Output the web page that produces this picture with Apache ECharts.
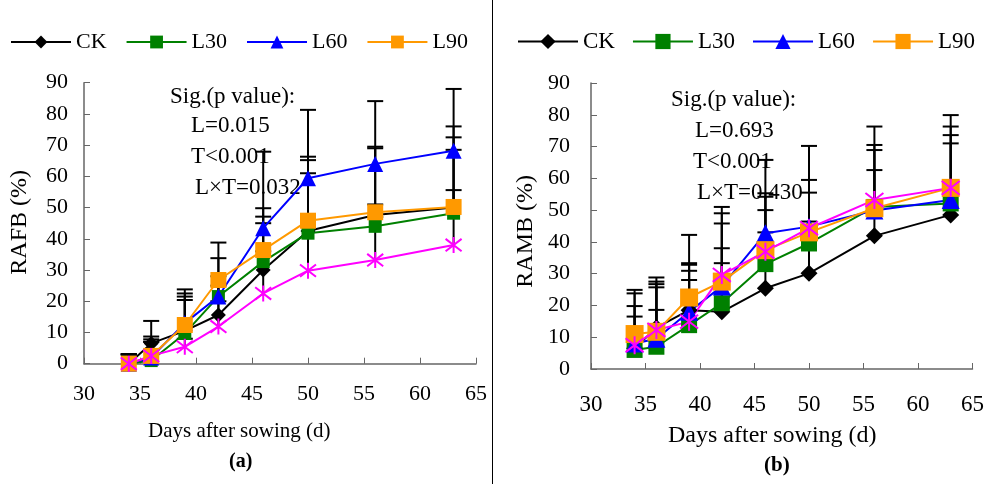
<!DOCTYPE html>
<html>
<head>
<meta charset="utf-8">
<script src="https://cdn.jsdelivr.net/npm/echarts@6/dist/echarts.min.js"></script>
<style>
  html, body { margin: 0; padding: 0; background: #fff; }
  #box { width: 987px; height: 484px; }
</style>
</head>
<body>
<div id="box"></div>
<script>
// 天数 (x)
var days = [34, 36, 39, 42, 46, 50, 56, 63];
var xTicks = [30, 35, 40, 45, 50, 55, 60, 65];
var yTicks = [0, 10, 20, 30, 40, 50, 60, 70, 80, 90];

// (a) RAFB 均值
var ckA   = [0, 6.5, 10.5, 15.6, 30, 42.5, 47.6, 50];
var l30A  = [0, 1, 9.7, 21.5, 32.7, 41.8, 44, 48.2];
var l60A  = [0, 2, 13, 21.5, 43.4, 59.4, 64, 68.2];
var l90A  = [0, 2.5, 12.4, 26.8, 36.4, 45.8, 48.5, 50.2];
var l120A = [0, 2.5, 5.4, 11.9, 22.5, 29.8, 33.2, 38];
// (a) 误差 (上)
var ckAErr   = [3, 2.2, 11, 9.4, 17.1, 22.7, 21.9, 22.5];
var l30AErr  = [3, 6.8, 10.7, 6.5, 12.3, 19.2, 7, 20.3];
var l60AErr  = [3, 11.7, 10.8, 17.3, 24.5, 21.9, 20.1, 19.8];
var l90AErr  = [3, 4.5, 10.1, 7, 13.4, 20.5, 20.5, 25.8];
var l120AErr = [3, 4.5, 2.6, 8.1, 13.5, 15.2, 13.8, 17.6];

// (b) RAMB 均值
var ckB   = [6.5, 13, 18.5, 18, 25.4, 30.1, 41.9, 48.5];
var l30B  = [6, 7, 13.8, 20.7, 33, 39.5, 51, 52.1];
var l60B  = [8, 9.5, 18, 26, 42.7, 44.8, 49.9, 53.2];
var l90B  = [11, 11.7, 22.5, 27.5, 37.4, 43, 50.6, 57];
var l120B = [7.5, 12.3, 14.9, 29.6, 36.9, 44.3, 53.2, 57];
// (b) 误差 (上)
var ckBErr   = [10, 13.7, 14.8, 15.3, 17.6, 13.9, 11.1, 10.5];
var l30BErr  = [7, 11.6, 14.2, 17.3, 17, 6.9, 11.6, 18.9];
var l60BErr  = [15.8, 16.2, 14.8, 19.8, 23.1, 10.7, 19, 20.4];
var l90BErr  = [13.9, 17.1, 19.7, 21.5, 17.9, 16.5, 19.9, 22.9];
var l120BErr = [12.3, 15.2, 16, 21.4, 17.3, 25.9, 23.1, 19.3];

var legendNames = ['CK', 'L30', 'L60', 'L90'];
var font = "'Times New Roman', 'Liberation Serif', serif";
var star = 'path://M0,0L10,10M10,0L0,10M5,-1.5L5,11.5';

var myChart = echarts.init(document.getElementById('box'));

function pts(vals) {
  return days.map(function (d, i) { return [d, vals[i]]; });
}

function lineSeries(name, vals, color, symbol, size, idx) {
  var s = {
    type: 'line', name: name,
    xAxisIndex: idx, yAxisIndex: idx,
    data: pts(vals),
    symbol: symbol, symbolSize: size,
    lineStyle: { color: color, width: 2 },
    itemStyle: { color: color },
    z: 3
  };
  if (symbol === star) {
    s.itemStyle = { color: 'rgba(0,0,0,0)', borderColor: color, borderWidth: 2 };
  }
  return s;
}

// 误差线: 自定义系列
function errSeries(list, idx, capW) {
  var data = [];
  list.forEach(function (p) {
    days.forEach(function (d, i) {
      data.push([d, p[0][i], p[0][i] + p[1][i]]);
    });
  });
  return {
    type: 'custom',
    xAxisIndex: idx, yAxisIndex: idx,
    data: data,
    z: 2,
    encode: { x: 0, y: [1, 2] },
    renderItem: function (params, api) {
      var a = api.coord([api.value(0), api.value(1)]);
      var b = api.coord([api.value(0), api.value(2)]);
      return {
        type: 'group',
        children: [
          { type: 'line', shape: { x1: a[0], y1: a[1], x2: b[0], y2: b[1] }, style: { stroke: '#000', lineWidth: 2 } },
          { type: 'line', shape: { x1: b[0] - capW, y1: b[1], x2: b[0] + capW, y2: b[1] }, style: { stroke: '#000', lineWidth: 2 } }
        ]
      };
    }
  };
}

function xAxisCfg(idx, margin, size) {
  return {
    type: 'value', gridIndex: idx, min: 30, max: 65, interval: 5,
    axisLine: { lineStyle: { color: '#666', width: 1.5 } },
    axisTick: { inside: true, length: 6, lineStyle: { color: '#666' } },
    splitLine: { show: false },
    axisLabel: { color: '#000', fontSize: size, fontFamily: font, margin: margin }
  };
}

function yAxisCfg(idx, margin) {
  return {
    type: 'value', gridIndex: idx, min: 0, max: 90, interval: 10,
    axisLine: { show: true, lineStyle: { color: '#666', width: 1.5 } },
    axisTick: { show: true, inside: true, length: 6, lineStyle: { color: '#666' } },
    splitLine: { show: false },
    axisLabel: { color: '#000', fontSize: 22, fontFamily: font, margin: margin }
  };
}

function txt(x, y, s, f) {
  return { type: 'text', left: x, top: y,
    style: { text: s, fill: '#000', font: f + ' ' + font } };
}

var option = {
  animation: false,
  grid: [
    { left: 84, top: 82.7, width: 392, height: 281 },
    { left: 591, top: 83, width: 382, height: 286 }
  ],
  xAxis: [xAxisCfg(0, 20, 22), xAxisCfg(1, 24, 23)],
  yAxis: [yAxisCfg(0, 16), yAxisCfg(1, 21)],
  legend: [
    { data: legendNames, left: 10, top: 31, padding: 0, itemWidth: 60, itemHeight: 16, itemGap: 19,
      textStyle: { fontSize: 22, fontFamily: font, color: '#000' } },
    { data: legendNames, left: 517, top: 30, padding: 0, itemWidth: 60, itemHeight: 19, itemGap: 17,
      textStyle: { fontSize: 23, fontFamily: font, color: '#000' } }
  ],
  graphic: [
    { type: 'line', shape: { x1: 492.5, y1: 0, x2: 492.5, y2: 484 }, style: { stroke: '#000', lineWidth: 1 } },
    txt(170, 85, 'Sig.(p value):', '23px'),
    txt(191, 114, 'L=0.015', '23px'),
    txt(191, 145, 'T<0.001', '23px'),
    txt(195, 176, 'L×T=0.032', '23px'),
    txt(671, 88, 'Sig.(p value):', '23px'),
    txt(695, 119, 'L=0.693', '23px'),
    txt(693, 150, 'T<0.001', '23px'),
    txt(697, 181, 'L×T=0.430', '23px'),
    { type: 'text', left: 8, top: 170, rotation: Math.PI / 2,
      style: { text: 'RAFB (%)', fill: '#000', font: '24px ' + font } },
    { type: 'text', left: 514, top: 175, rotation: Math.PI / 2,
      style: { text: 'RAMB (%)', fill: '#000', font: '24px ' + font } },
    txt(148, 421, 'Days after sowing (d)', '21px'),
    txt(668, 424, 'Days after sowing (d)', '24px'),
    txt(229, 452, '(a)', 'bold 20px'),
    txt(764, 455, '(b)', 'bold 21px')
  ],
  series: [
    errSeries([[ckA, ckAErr], [l30A, l30AErr], [l60A, l60AErr], [l90A, l90AErr], [l120A, l120AErr]], 0, 8),
    errSeries([[ckB, ckBErr], [l30B, l30BErr], [l60B, l60BErr], [l90B, l90BErr], [l120B, l120BErr]], 1, 8),
    lineSeries('CK', ckA, '#000000', 'diamond', 15, 0),
    lineSeries('L30', l30A, '#008000', 'rect', 13, 0),
    lineSeries('L60', l60A, '#0000ff', 'triangle', 16, 0),
    lineSeries('L90', l90A, '#ff9900', 'rect', 16, 0),
    lineSeries('L120', l120A, '#ff00ff', star, 16, 0),
    lineSeries('CK', ckB, '#000000', 'diamond', 17, 1),
    lineSeries('L30', l30B, '#008000', 'rect', 16, 1),
    lineSeries('L60', l60B, '#0000ff', 'triangle', 18, 1),
    lineSeries('L90', l90B, '#ff9900', 'rect', 18, 1),
    lineSeries('L120', l120B, '#ff00ff', star, 18, 1)
  ]
};

myChart.setOption(option);
</script>
</body>
</html>
